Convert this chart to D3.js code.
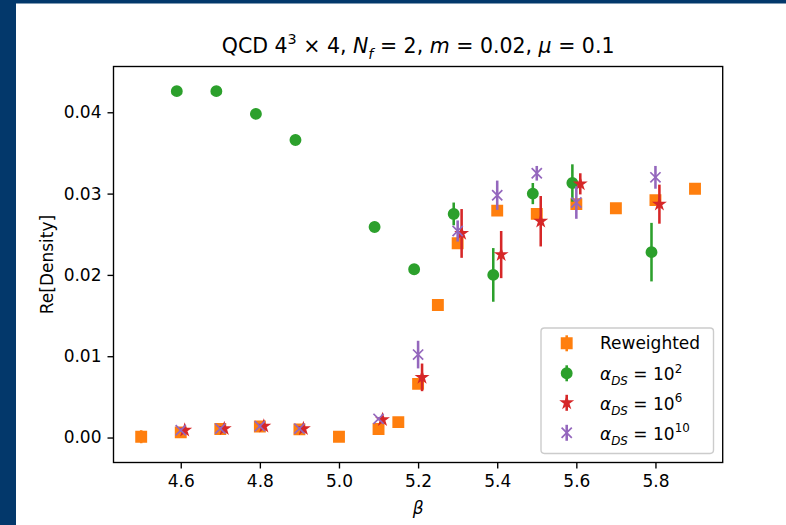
<!DOCTYPE html>
<html>
<head>
<meta charset="utf-8">
<script src="https://cdn.jsdelivr.net/npm/d3@7"></script>
<style>
  body { margin: 0; background: #ffffff; }
  svg { display: block; }
  text { font-family: "DejaVu Sans", sans-serif; fill: #000; }
</style>
</head>
<body>
<svg id="chart" width="786" height="525"></svg>
<script>
// ---- data ----------------------------------------------------------------
// Reweighted ensemble
const betaRw = [4.5, 4.6, 4.7, 4.8, 4.9, 5.0, 5.1, 5.15, 5.2, 5.25, 5.3, 5.4, 5.5, 5.6, 5.7, 5.8, 5.9];
const densRw = [0.0001, 0.00064, 0.00105, 0.00135, 0.0010, 0.0001, 0.00105, 0.0019, 0.0066, 0.0163, 0.0239, 0.0279, 0.0275, 0.0287, 0.0282, 0.0292, 0.0306];
const errRw  = [0.0008, 0.0002, 0.0002, 0.0002, 0.0002, 0.0001, 0.0002, 0.0002, 0.0005, 0.0002, 0.0003, 0.0002, 0.0003, 0.0003, 0.0002, 0.0002, 0.0002];

// alpha_DS = 10^2 (plotted slightly left of beta)
const betaA2 = [4.59, 4.69, 4.79, 4.89, 5.09, 5.19, 5.29, 5.39, 5.49, 5.59, 5.79];
const densA2 = [0.0426, 0.0426, 0.0398, 0.0366, 0.0259, 0.0207, 0.0275, 0.0200, 0.0300, 0.0313, 0.0228];
const errA2  = [0.0002, 0.0002, 0.0002, 0.0002, 0.0002, 0.0003, 0.0014, 0.0033, 0.0013, 0.0023, 0.0036];

// alpha_DS = 10^6 (plotted slightly right of beta)
const betaA6 = [4.61, 4.71, 4.81, 4.91, 5.11, 5.21, 5.31, 5.41, 5.51, 5.61, 5.81];
const densA6 = [0.0009, 0.0011, 0.0014, 0.0011, 0.0022, 0.0074, 0.0251, 0.0225, 0.0266, 0.0312, 0.0287];
const errA6  = [0.0002, 0.0002, 0.0002, 0.0002, 0.0002, 0.0017, 0.0030, 0.0029, 0.0031, 0.0013, 0.0024];

// alpha_DS = 10^10
const betaA10 = [4.6, 4.7, 4.8, 4.9, 5.1, 5.2, 5.3, 5.4, 5.5, 5.6, 5.8];
const densA10 = [0.0009, 0.0011, 0.0014, 0.0011, 0.0023, 0.0102, 0.0254, 0.0298, 0.0325, 0.0289, 0.0320];
const errA10  = [0.0002, 0.0002, 0.0002, 0.0002, 0.0002, 0.0017, 0.0013, 0.0018, 0.0009, 0.0020, 0.0014];

const xTicks = [4.6, 4.8, 5.0, 5.2, 5.4, 5.6, 5.8];
const yTicks = [0.00, 0.01, 0.02, 0.03, 0.04];

// ---- layout ----------------------------------------------------------------
const svg = d3.select("#chart");
const W = 786, H = 525;
const plot = { left: 113.5, right: 722.7, top: 66.5, bottom: 462.5 };
const FS = 17;          // tick / label / legend font size
const MS = 10.2;        // marker size
const MEW = 1.7;        // marker edge width
const ELW = 2.56;       // error bar line width

const C = { orange: "#ff7f0e", green: "#2ca02c", red: "#d62728", purple: "#9467bd" };

// slide frame
svg.append("rect").attr("x", 0).attr("y", 0).attr("width", W).attr("height", H).attr("fill", "#ffffff");
svg.append("rect").attr("x", 0).attr("y", 0).attr("width", W).attr("height", 3.5).attr("fill", "#03386b");
svg.append("rect").attr("x", 0).attr("y", 0).attr("width", 16).attr("height", H).attr("fill", "#03386b");

const x = d3.scaleLinear().domain([4.43, 5.97]).range([plot.left, plot.right]);
const y = d3.scaleLinear().domain([-0.00307, 0.04563]).range([plot.bottom, plot.top]);

// ---- axes ------------------------------------------------------------------
const xAxis = d3.axisBottom(x).tickValues(xTicks).tickFormat(d3.format(".1f"))
  .tickSizeInner(6).tickSizeOuter(0).tickPadding(6);
const yAxis = d3.axisLeft(y).tickValues(yTicks).tickFormat(d3.format(".2f"))
  .tickSizeInner(6).tickSizeOuter(0).tickPadding(6);

const gx = svg.append("g").attr("transform", `translate(0,${plot.bottom})`).call(xAxis);
const gy = svg.append("g").attr("transform", `translate(${plot.left},0)`).call(yAxis);
[gx, gy].forEach(g => {
  g.select(".domain").remove();
  g.selectAll(".tick line").attr("stroke", "#000").attr("stroke-width", 1.36);
  g.selectAll(".tick text").attr("font-size", FS).attr("font-family", "DejaVu Sans").attr("fill", "#000");
});

// ---- series ----------------------------------------------------------------
const squarePath = d3.symbol(d3.symbolSquare, MS * MS)();
const circlePath = d3.symbol(d3.symbolCircle, Math.PI * (MS / 2) * (MS / 2))();
const starPath = d3.symbol(d3.symbolStar, (MS / 2) * (MS / 2) / 0.8908130915)();
const h = MS / 2;
const crossPath = (() => { const p = d3.path(); p.moveTo(-h, -h); p.lineTo(h, h); p.moveTo(-h, h); p.lineTo(h, -h); return p.toString(); })();

const series = [
  { beta: betaRw,  dens: densRw,  err: errRw,  color: C.orange, path: squarePath, filled: true },
  { beta: betaA2,  dens: densA2,  err: errA2,  color: C.green,  path: circlePath, filled: true },
  { beta: betaA6,  dens: densA6,  err: errA6,  color: C.red,    path: starPath,   filled: true },
  { beta: betaA10, dens: densA10, err: errA10, color: C.purple, path: crossPath,  filled: false }
];

const gData = svg.append("g");
series.forEach(s => {
  const pts = s.beta.map((b, i) => ({ b, v: s.dens[i], e: s.err[i] }));
  const g = gData.append("g");
  g.selectAll("line.err").data(pts).join("line")
    .attr("class", "err")
    .attr("x1", d => x(d.b)).attr("x2", d => x(d.b))
    .attr("y1", d => y(d.v - d.e)).attr("y2", d => y(d.v + d.e))
    .attr("stroke", s.color).attr("stroke-width", ELW);
  g.selectAll("path.mk").data(pts).join("path")
    .attr("class", "mk")
    .attr("d", s.path)
    .attr("transform", d => `translate(${x(d.b)},${y(d.v)})`)
    .attr("fill", s.filled ? s.color : "none")
    .attr("stroke", s.color).attr("stroke-width", MEW)
    .attr("stroke-linejoin", "miter");
});

// ---- spines ----------------------------------------------------------------
svg.append("rect")
  .attr("x", plot.left).attr("y", plot.top)
  .attr("width", plot.right - plot.left).attr("height", plot.bottom - plot.top)
  .attr("fill", "none").attr("stroke", "#000").attr("stroke-width", 1.36);

// ---- mathtext helper -------------------------------------------------------
// parts: [text, kind]  kind: n (upright), i (italic), si (italic subscript), p (superscript)
function mathText(g, parts, fs) {
  const t = g.append("text").attr("font-size", fs);
  let shift = 0;
  parts.forEach(([str, kind]) => {
    let target = 0, size = fs, italic = false;
    if (kind === "i") italic = true;
    if (kind === "si") { italic = true; size = fs * 0.7; target = 0.3 * fs; }
    if (kind === "p") { size = fs * 0.7; target = -0.44 * fs; }
    const ts = t.append("tspan").text(str).attr("font-size", size)
      .attr("dy", target - shift);
    if (italic) ts.attr("font-style", "italic");
    shift = target;
  });
  return t;
}

// title
mathText(svg.append("g").attr("transform", `translate(${(plot.left + plot.right) / 2},53)`),
  [["QCD ", "n"], ["4", "n"], ["3", "p"], [" \u00d7 4, ", "n"], ["N", "i"], ["f", "si"],
   [" = 2, ", "n"], ["m", "i"], [" = 0.02, ", "n"], ["\u03bc", "i"], [" = 0.1", "n"]], 20.5)
  .attr("text-anchor", "middle");

// axis labels
svg.append("text").attr("x", (plot.left + plot.right) / 2).attr("y", 514)
  .attr("text-anchor", "middle").attr("font-size", FS).attr("font-style", "italic").text("\u03b2");
svg.append("text").attr("transform", `translate(53,${(plot.top + plot.bottom) / 2}) rotate(-90)`)
  .attr("text-anchor", "middle").attr("font-size", FS).text("Re[Density]");

// ---- legend ----------------------------------------------------------------
const legend = svg.append("g");
legend.append("rect").attr("x", 541).attr("y", 328).attr("width", 172.5).attr("height", 125.5)
  .attr("rx", 3.4).attr("ry", 3.4)
  .attr("fill", "#ffffff").attr("fill-opacity", 0.8)
  .attr("stroke", "#cccccc").attr("stroke-width", 1.4);

const legendLabels = [
  [["Reweighted", "n"]],
  [["\u03b1", "i"], ["DS", "si"], [" = 10", "n"], ["2", "p"]],
  [["\u03b1", "i"], ["DS", "si"], [" = 10", "n"], ["6", "p"]],
  [["\u03b1", "i"], ["DS", "si"], [" = 10", "n"], ["10", "p"]]
];
const rowMarkY = [343.3, 373.3, 402.8, 432.8];
const rowTextY = [349.4, 380.3, 409.8, 439.8];
series.forEach((s, i) => {
  const gy0 = rowMarkY[i];
  legend.append("line").attr("x1", 566.7).attr("x2", 566.7)
    .attr("y1", gy0 - 8).attr("y2", gy0 + 8)
    .attr("stroke", s.color).attr("stroke-width", ELW);
  legend.append("path").attr("d", s.path)
    .attr("transform", `translate(566.7,${gy0})`)
    .attr("fill", s.filled ? s.color : "none")
    .attr("stroke", s.color).attr("stroke-width", MEW);
  mathText(legend.append("g").attr("transform", `translate(600,${rowTextY[i]})`), legendLabels[i], FS);
});
</script>
</body>
</html>
